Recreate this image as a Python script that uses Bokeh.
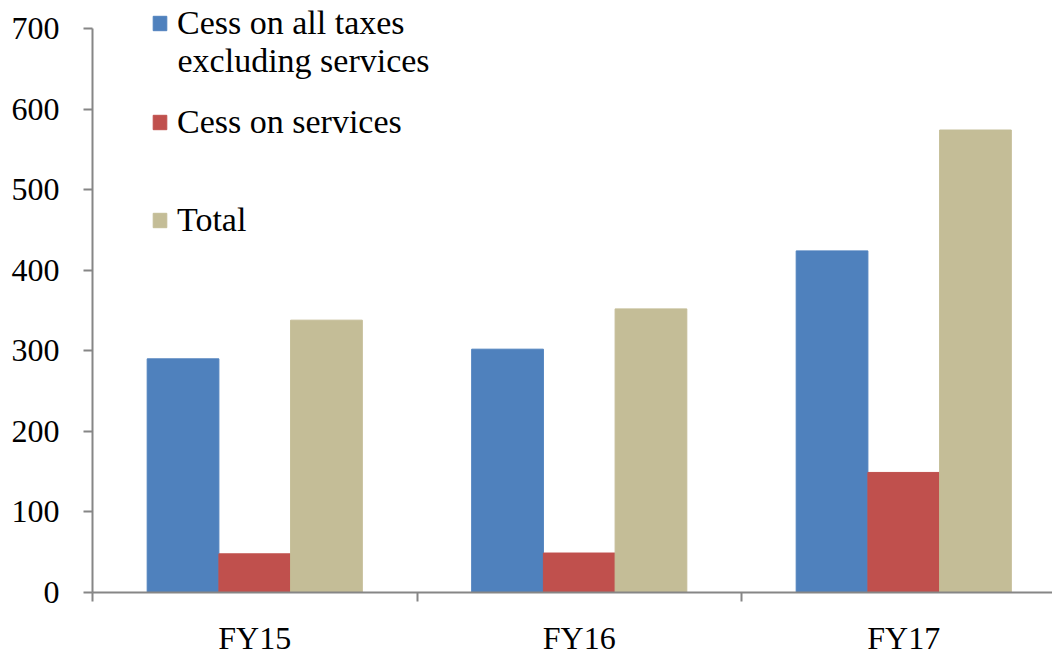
from bokeh.plotting import figure
from bokeh.models import Range1d, FixedTicker, Legend, LegendItem, ColumnDataSource, Label
from bokeh.transform import dodge
from bokeh.embed import file_html
from bokeh.resources import INLINE

categories = ["FY15", "FY16", "FY17"]
cess_excl_services = [290, 302, 424]
cess_services = [48, 49, 149]
total = [338, 352, 574]

series_labels = ["Cess on all taxes", "Cess on services", "Total"]
label_continuation = "excluding services"
colors = ["#4F81BD", "#C0504D", "#C4BD97"]

FONT = "Liberation Serif"
FS = "32px"
LFS = "34px"
AXIS_COLOR = "#868686"

centers = [i + 0.5 for i in range(len(categories))]
src = ColumnDataSource(dict(x=centers, a=cess_excl_services, b=cess_services, c=total))

px_per_unit = 592 / 734.75
p = figure(width=1052, height=658, output_backend="svg", toolbar_location=None,
           x_range=Range1d(0, 960 / 324.5), y_range=Range1d(0, 734.75),
           min_border_left=92, min_border_top=0, min_border_bottom=66, min_border_right=0)
p.outline_line_color = None
p.xgrid.visible = False
p.ygrid.visible = False
p.background_fill_color = "white"
p.border_fill_color = "white"

bw = 0.221
renderers = []
for field, off, col in zip(["a", "b", "c"], [-bw, 0, bw], colors):
    r = p.vbar(x=dodge("x", off), top=field, width=bw, source=src,
               fill_color=col, line_color=col, line_width=1)
    renderers.append(r)

# x axis
p.xaxis.ticker = FixedTicker(ticks=centers, minor_ticks=list(range(len(categories) + 1)))
p.xaxis.major_label_overrides = {c: lab for c, lab in zip(centers, categories)}
p.xaxis.major_tick_out = 0
p.xaxis.major_tick_in = 0
p.xaxis.minor_tick_out = 9
p.xaxis.minor_tick_in = 0
p.xaxis.major_label_standoff = 18
p.xaxis.major_label_text_line_height = 1.0

# y axis
p.yaxis.ticker = FixedTicker(ticks=list(range(0, 701, 100)))
p.yaxis.bounds = (0, 700)
p.yaxis.major_tick_out = 9
p.yaxis.major_tick_in = 0
p.yaxis.minor_tick_out = 0
p.yaxis.minor_tick_in = 0
p.yaxis.major_label_standoff = 24

for ax in (p.xaxis[0], p.yaxis[0]):
    ax.axis_line_color = AXIS_COLOR
    ax.axis_line_width = 2
    ax.major_tick_line_color = AXIS_COLOR
    ax.major_tick_line_width = 2
    ax.minor_tick_line_color = AXIS_COLOR
    ax.minor_tick_line_width = 2
    ax.major_label_text_font = FONT
    ax.major_label_text_font_size = FS
    ax.major_label_text_color = "black"

# legends (one per series, placed individually)
legend_locs = [(59, 550), (59, 451), (59, 353)]
for lab, r, loc in zip(series_labels, renderers, legend_locs):
    lg = Legend(items=[LegendItem(label=lab, renderers=[r])], location=loc,
                padding=0, margin=0, border_line_color=None, background_fill_alpha=0,
                glyph_width=17, glyph_height=18, label_standoff=9,
                label_text_font=FONT, label_text_font_size=LFS, label_text_color="black",
                label_text_line_height=1.15, label_height=18, spacing=0)
    p.add_layout(lg, "center")

p.add_layout(Label(x=(177 - 92) / 324.5, y=(592 - 60) / px_per_unit, text=label_continuation,
                   text_font=FONT, text_font_size=LFS, text_color="black",
                   text_baseline="alphabetic"))

open("out.html", "w").write(file_html(p, INLINE))
